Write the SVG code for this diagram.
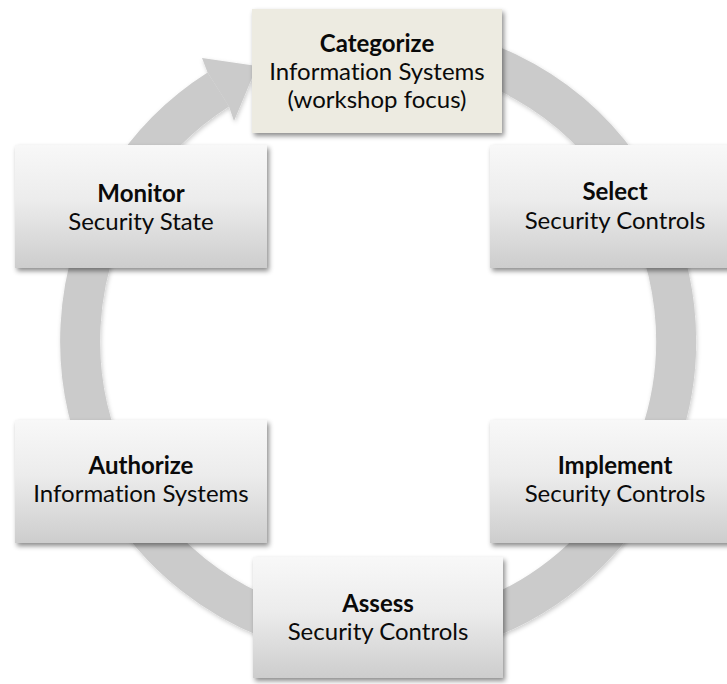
<svg xmlns="http://www.w3.org/2000/svg" width="727" height="684" viewBox="0 0 727 684">
  <defs>
    <linearGradient id="boxGrad" x1="0" y1="0" x2="0" y2="1">
      <stop offset="0" stop-color="#f8f8f8"/>
      <stop offset="0.45" stop-color="#ececec"/>
      <stop offset="1" stop-color="#cdcdcd"/>
    </linearGradient>
    <filter id="shadow" x="-10%" y="-10%" width="125%" height="130%">
      <feDropShadow dx="2" dy="3" stdDeviation="2.5" flood-color="#000" flood-opacity="0.45"/>
    </filter>
    <filter id="ringShadow" x="-10%" y="-10%" width="120%" height="120%">
      <feDropShadow dx="1" dy="2" stdDeviation="2" flood-color="#000" flood-opacity="0.2"/>
    </filter>
  </defs>
  <style>
    .box { fill: url(#boxGrad); filter: url(#shadow); }
    .focus { fill: #edebe1; filter: url(#shadow); }
    text { font-family: Lato, "Open Sans", "Liberation Sans", sans-serif; font-size: 24px; fill: #0a0a0a; text-anchor: middle; font-variant-ligatures: none; font-feature-settings: "liga" 0, "clig" 0; }
    .title { font-weight: bold; }
    .ring { fill: none; stroke: #cbcbcb; stroke-width: 40; }
    .head { fill: #cbcbcb; }
  </style>
  <rect width="727" height="684" fill="#ffffff"/>

  <g id="connectors" filter="url(#ringShadow)">
    <path class="ring" d="M 378 43 A 298 298 0 1 1 218.3 89.5"/>
    <polygon class="head" points="207.6,72.6 202,58 257,66 234,121 229,106.4"/>
  </g>

  <g id="categorize">
    <rect class="focus" x="252" y="9" width="250" height="124"/>
    <text class="title" x="377" y="52">Categorize</text>
    <text x="377" y="80">Information Systems</text>
    <text x="377" y="108">(workshop focus)</text>
  </g>

  <g id="select">
    <rect class="box" x="490" y="145" width="250" height="123"/>
    <text class="title" x="615" y="200">Select</text>
    <text x="615" y="229">Security Controls</text>
  </g>

  <g id="implement">
    <rect class="box" x="490" y="420" width="250" height="123"/>
    <text class="title" x="615" y="474">Implement</text>
    <text x="615" y="502">Security Controls</text>
  </g>

  <g id="assess">
    <rect class="box" x="253" y="557" width="250" height="121"/>
    <text class="title" x="378" y="612">Assess</text>
    <text x="378" y="640">Security Controls</text>
  </g>

  <g id="authorize">
    <rect class="box" x="15" y="420" width="252" height="123"/>
    <text class="title" x="141" y="474">Authorize</text>
    <text x="141" y="502">Information Systems</text>
  </g>

  <g id="monitor">
    <rect class="box" x="15" y="145" width="252" height="123"/>
    <text class="title" x="141" y="202">Monitor</text>
    <text x="141" y="230">Security State</text>
  </g>
</svg>
